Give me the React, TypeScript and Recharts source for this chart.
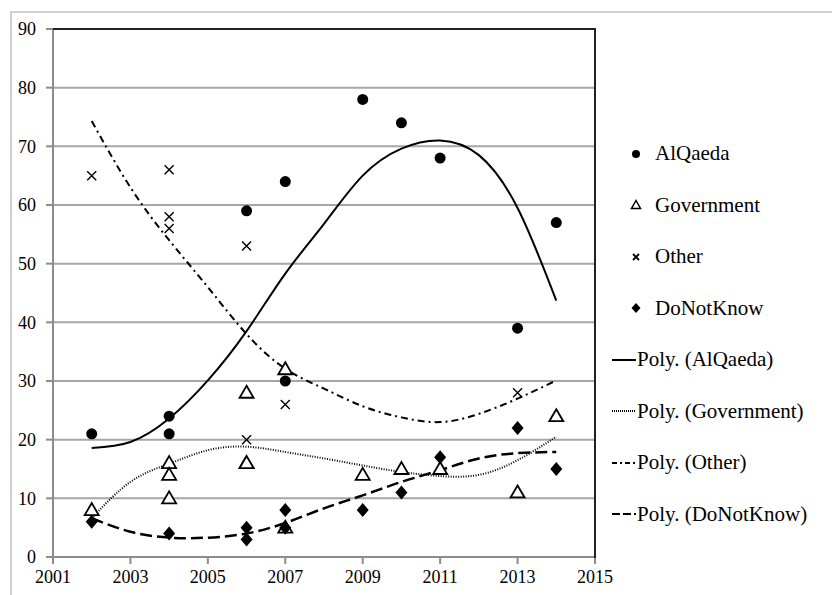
import React from 'react';
import { ComposedChart, Scatter, Line, XAxis, YAxis, CartesianGrid } from 'recharts';

const years = [2002, 2003, 2004, 2005, 2006, 2007, 2008, 2009, 2010, 2011, 2012, 2013, 2014];

// trend curves at each year
const aqTrend = [18.6, 19.6, 23.6, 30.1, 38.5, 48.3, 56.8, 65.0, 69.6, 71.0, 68.5, 59.5, 43.7];
const govTrend = [6.6, 12.8, 15.9, 18.2, 18.8, 17.9, 16.8, 15.6, 14.5, 13.8, 14.0, 16.5, 20.5];
const othTrend = [74.3, 63.0, 54.0, 46.0, 38.0, 32.1, 28.7, 25.7, 23.8, 23.0, 24.4, 27.0, 30.1];
const dnkTrend = [6.6, 4.3, 3.3, 3.3, 4.0, 5.8, 8.3, 10.5, 12.8, 14.8, 16.8, 17.7, 17.9];

// survey points
const aqYears = [2002, 2004, 2004, 2006, 2007, 2007, 2009, 2010, 2011, 2013, 2014];
const aqValues = [21, 24, 21, 59, 64, 30, 78, 74, 68, 39, 57];
const govYears = [2002, 2004, 2004, 2004, 2006, 2006, 2006, 2007, 2007, 2009, 2010, 2011, 2013, 2014];
const govValues = [8, 16, 14, 10, 28, 16, 16, 32, 5, 14, 15, 15, 11, 24];
const othYears = [2002, 2004, 2004, 2004, 2006, 2006, 2007, 2013];
const othValues = [65, 66, 58, 56, 53, 20, 26, 28];
const dnkYears = [2002, 2004, 2006, 2006, 2007, 2007, 2009, 2010, 2011, 2013, 2014];
const dnkValues = [6, 4, 5, 3, 8, 5, 8, 11, 17, 22, 15];

const xTicks = [2001, 2003, 2005, 2007, 2009, 2011, 2013, 2015];
const yTicks = [0, 10, 20, 30, 40, 50, 60, 70, 80, 90];

const trendData = years.map((year, i) => ({
  year, aq: aqTrend[i], gov: govTrend[i], oth: othTrend[i], dnk: dnkTrend[i],
}));
const toPoints = (xs: number[], vs: number[]) => xs.map((year, i) => ({ year, v: vs[i] }));

const FONT = '"Times New Roman", Tinos, "Liberation Serif", "DejaVu Serif", serif';

const Dot = (p: any) => <circle cx={p.cx} cy={p.cy} r={5.5} fill="#000" />;
const Tri = (p: any) => (
  <path d={`M${p.cx},${p.cy - 7} L${p.cx + 7},${p.cy + 5} L${p.cx - 7},${p.cy + 5} Z`} fill="#fff" stroke="#000" strokeWidth={1.8} />
);
const Cross = (p: any) => (
  <path d={`M${p.cx - 4.5},${p.cy - 4.5} L${p.cx + 4.5},${p.cy + 4.5} M${p.cx + 4.5},${p.cy - 4.5} L${p.cx - 4.5},${p.cy + 4.5}`} stroke="#000" strokeWidth={1.4} />
);
const Diamond = (p: any) => (
  <path d={`M${p.cx},${p.cy - 7} L${p.cx + 6},${p.cy} L${p.cx},${p.cy + 7} L${p.cx - 6},${p.cy} Z`} fill="#000" />
);

const legendItems = [
  { label: 'AlQaeda', kind: 'dot' },
  { label: 'Government', kind: 'tri' },
  { label: 'Other', kind: 'cross' },
  { label: 'DoNotKnow', kind: 'diamond' },
  { label: 'Poly. (AlQaeda)', kind: 'line', dash: undefined },
  { label: 'Poly. (Government)', kind: 'line', dash: '1 1' },
  { label: 'Poly. (Other)', kind: 'line', dash: '5 3 2 3' },
  { label: 'Poly. (DoNotKnow)', kind: 'line', dash: '8 3' },
];

const LegendIcon = ({ kind, dash }: { kind: string; dash?: string }) => {
  const cx = 12, cy = 10;
  if (kind === 'dot') return <circle cx={cx} cy={cy} r={4} fill="#000" />;
  if (kind === 'tri') return <path d={`M${cx},${cy - 4.5} L${cx + 4.5},${cy + 3.5} L${cx - 4.5},${cy + 3.5} Z`} fill="none" stroke="#000" strokeWidth={1.5} />;
  if (kind === 'cross') return <path d={`M${cx - 3},${cy - 3} L${cx + 3},${cy + 3} M${cx + 3},${cy - 3} L${cx - 3},${cy + 3}`} stroke="#000" strokeWidth={1.8} />;
  if (kind === 'diamond') return <path d={`M${cx},${cy - 5} L${cx + 4.5},${cy} L${cx},${cy + 5} L${cx - 4.5},${cy} Z`} fill="#000" />;
  return <line x1={0} y1={cy} x2={24} y2={cy} stroke="#000" strokeWidth={2} strokeDasharray={dash} />;
};

export default function App() {
  return (
    <div style={{ position: 'absolute', left: 0, top: 0, width: 832, height: 595, background: '#fff', fontFamily: FONT }}>
      <div style={{ position: 'absolute', left: 10, top: 11, width: 840, height: 600, border: '2px solid #cfcfcf', boxSizing: 'border-box' }} />
      <ComposedChart
        width={832}
        height={595}
        data={trendData}
        margin={{ top: 29, right: 237, left: 10, bottom: 7 }}
        style={{ position: 'absolute', left: 0, top: 0, fontFamily: FONT }}
      >
        <CartesianGrid horizontal vertical={false} stroke="#a6a6a6" strokeWidth={2} />
        <XAxis
          dataKey="year"
          type="number"
          domain={[2001, 2015]}
          ticks={xTicks}
          interval={0}
          stroke="#8c8c8c"
          strokeWidth={2}
          tickSize={7}
          tickMargin={6}
          height={31}
          tick={{ fill: '#000', fontSize: 18, fontFamily: FONT }}
        />
        <YAxis
          type="number"
          domain={[0, 90]}
          ticks={yTicks}
          interval={0}
          stroke="#8c8c8c"
          strokeWidth={2}
          tickSize={7}
          tickMargin={10}
          width={43}
          tick={{ fill: '#000', fontSize: 18, fontFamily: FONT }}
        />
        <Line dataKey="aq" type="natural" stroke="#000" strokeWidth={2} dot={false} isAnimationActive={false} />
        <Line dataKey="gov" type="natural" stroke="#000" strokeWidth={2} strokeDasharray="1 1.5" dot={false} isAnimationActive={false} />
        <Line dataKey="oth" type="natural" stroke="#000" strokeWidth={2} strokeDasharray="7 4 2 4" dot={false} isAnimationActive={false} />
        <Line dataKey="dnk" type="natural" stroke="#000" strokeWidth={2.5} strokeDasharray="12 5" dot={false} isAnimationActive={false} />
        <Scatter data={toPoints(aqYears, aqValues)} dataKey="v" shape={Dot} isAnimationActive={false} />
        <Scatter data={toPoints(govYears, govValues)} dataKey="v" shape={Tri} isAnimationActive={false} />
        <Scatter data={toPoints(othYears, othValues)} dataKey="v" shape={Cross} isAnimationActive={false} />
        <Scatter data={toPoints(dnkYears, dnkValues)} dataKey="v" shape={Diamond} isAnimationActive={false} />
      </ComposedChart>
      {/* dark top and right frame of plot area */}
      <div style={{ position: 'absolute', left: 53, top: 28, width: 542, height: 2, background: '#222' }} />
      <div style={{ position: 'absolute', left: 594, top: 28, width: 2, height: 530, background: '#222' }} />
      <div style={{ position: 'absolute', left: 612, top: 128, width: 220, fontSize: 21, color: '#000' }}>
        {legendItems.map((it) => (
          <div key={it.label} style={{ display: 'flex', alignItems: 'center', height: 51.5 }}>
            <svg width={24} height={20} style={{ marginRight: it.kind === 'line' ? 1 : 7, marginLeft: it.kind === 'line' ? 0 : 12, flexShrink: 0 }}>
              <LegendIcon kind={it.kind} dash={it.dash} />
            </svg>
            <span style={{ whiteSpace: 'nowrap' }}>{it.label}</span>
          </div>
        ))}
      </div>
    </div>
  );
}
